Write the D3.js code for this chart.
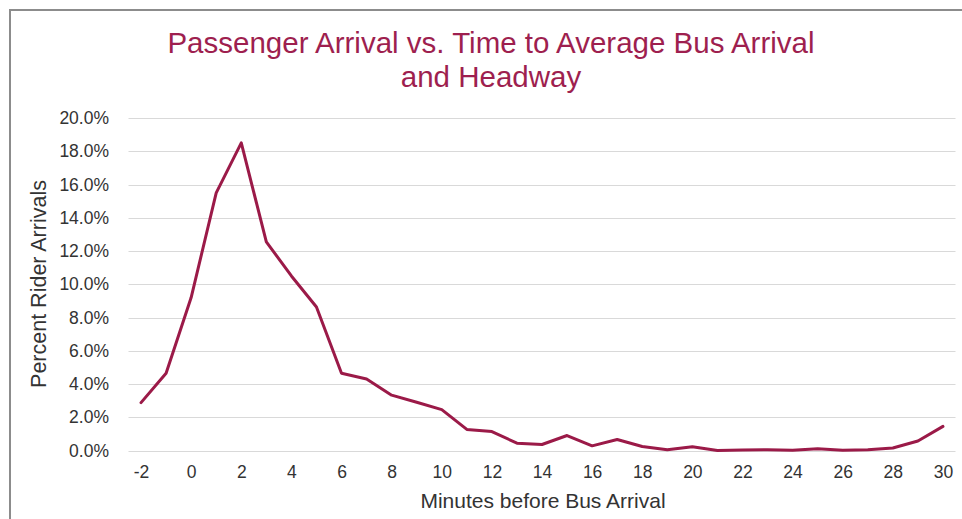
<!DOCTYPE html>
<html>
<head>
<meta charset="utf-8">
<script src="https://cdn.jsdelivr.net/npm/d3@7"></script>
<style>
  html, body { margin: 0; padding: 0; background: #fff; }
  svg { display: block; font-family: "Liberation Sans", Arial, sans-serif; }
</style>
</head>
<body>
<svg id="chart" width="962" height="519"></svg>
<script>
// Data
const minutes = [-2,-1,0,1,2,3,4,5,6,7,8,9,10,11,12,13,14,15,16,17,18,19,20,21,22,23,24,25,26,27,28,29,30];
const percentArrivals = [2.88,4.65,9.2,15.5,18.5,12.55,10.5,8.63,4.65,4.3,3.33,2.9,2.46,1.27,1.14,0.44,0.36,0.9,0.28,0.66,0.24,0.05,0.22,0.0,0.03,0.04,0.01,0.1,0.01,0.05,0.15,0.57,1.45];
const yTicks = [0,2,4,6,8,10,12,14,16,18,20];
const xTickLabels = [-2,0,2,4,6,8,10,12,14,16,18,20,22,24,26,28,30];
const titleLines = ["Passenger Arrival vs. Time to Average Bus Arrival", "and Headway"];
const xTitle = "Minutes before Bus Arrival";
const yTitle = "Percent Rider Arrivals";

const svg = d3.select("#chart");
const W = 962, H = 519;
const plot = { left: 128.5, right: 955.5, top: 118, bottom: 450.5 };

const lineColor = "#9b1a48";
const titleColor = "#9e1f4f";
const textColor = "#333333";

// chart border (left and top visible)
svg.append("path")
  .attr("d", `M10,${H} L10,10 L${W},10`)
  .attr("fill", "none")
  .attr("stroke", "#8c8c8c")
  .attr("stroke-width", 2);

const x = d3.scaleLinear().domain([-2.5, 30.5]).range([plot.left, plot.right]);
const y = d3.scaleLinear().domain([0, 20]).range([plot.bottom, plot.top]);

// grid lines
svg.append("g")
  .selectAll("line")
  .data(yTicks)
  .join("line")
  .attr("x1", plot.left).attr("x2", plot.right)
  .attr("y1", d => Math.round(y(d)) + 0.5).attr("y2", d => Math.round(y(d)) + 0.5)
  .attr("stroke", "#d9d9d9").attr("stroke-width", 1);

// y axis
const yAxis = d3.axisLeft(y).tickValues(yTicks).tickFormat(d => d.toFixed(1) + "%").tickSize(0).tickPadding(0);
const gy = svg.append("g").attr("transform", `translate(109,0)`).call(yAxis);
gy.select(".domain").remove();
gy.selectAll("text").attr("fill", textColor).style("font-size", "17.5px").style("font-family", "Liberation Sans, Arial, sans-serif");

// x axis
const xAxis = d3.axisBottom(x).tickValues(xTickLabels).tickFormat(d => d).tickSize(0).tickPadding(0);
const gx = svg.append("g").attr("transform", `translate(0,${plot.bottom + 15})`).call(xAxis);
gx.select(".domain").remove();
gx.selectAll("text").attr("fill", textColor).style("font-size", "17.5px").style("font-family", "Liberation Sans, Arial, sans-serif");

// line
const line = d3.line().x((d, i) => x(minutes[i])).y(d => y(d));
svg.append("path")
  .datum(percentArrivals)
  .attr("d", line)
  .attr("fill", "none")
  .attr("stroke", lineColor)
  .attr("stroke-width", 3)
  .attr("stroke-linejoin", "round")
  .attr("stroke-linecap", "round");

// title
svg.append("g").selectAll("text")
  .data(titleLines)
  .join("text")
  .attr("x", 491)
  .attr("y", (d, i) => 53 + i * 34)
  .attr("text-anchor", "middle")
  .attr("fill", titleColor)
  .style("font-size", "29.5px")
  .text(d => d);

// axis titles
svg.append("text")
  .attr("x", 543).attr("y", 508)
  .attr("text-anchor", "middle")
  .attr("fill", textColor)
  .style("font-size", "21px")
  .text(xTitle);

svg.append("text")
  .attr("transform", `translate(46,284) rotate(-90)`)
  .attr("text-anchor", "middle")
  .attr("fill", textColor)
  .style("font-size", "21.5px")
  .text(yTitle);
</script>
</body>
</html>
